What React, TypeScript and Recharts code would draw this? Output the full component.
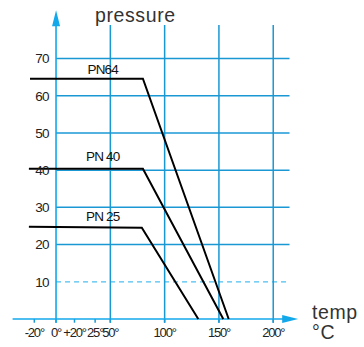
import { LineChart, Line, XAxis, YAxis, ReferenceLine, ReferenceDot } from 'recharts';

// pressure / temperature curves (schematic)
const pn64Temp = [-24, 80, 159];
const pn64Pressure = [64.6, 64.6, 0];
const pn40Temp = [-25, 80, 154];
const pn40Pressure = [40.4, 40.4, 0];
const pn25Temp = [-25, 79, 131];
const pn25Pressure = [24.8, 24.5, 0];

const seriesNames = ['PN64', 'PN 40', 'PN 25'];
const nameTemp = [43, 43, 43];
const namePressure = [67.2, 43.8, 27.6];

const yTicks = [10, 20, 30, 40, 50, 60, 70];
const xTicks = [-20, 0, 17, 36, 50, 100, 150, 200];
const xTickLabels = ['-20°', '0°', '+20°', '25°', '50°', '100°', '150°', '200°'];
const xGrid = [50, 100, 150, 200];

const toRows = (t: number[], p: number[]) => t.map((x, i) => ({ t: x, p: p[i] }));
const series = [
  toRows(pn64Temp, pn64Pressure),
  toRows(pn40Temp, pn40Pressure),
  toRows(pn25Temp, pn25Pressure),
];

const blue = '#1a98d4';
const arrowBlue = '#12a8ea';
const font = '"Liberation Sans", Arial, sans-serif';
const yTickStyle = { fill: '#222', fontSize: 13.5, fontFamily: font, letterSpacing: -0.6 };
const xTickStyle = { fill: '#222', fontSize: 13, fontFamily: font, letterSpacing: -1.2 };

export default function App() {
  return (
    <div style={{ position: 'absolute', left: 0, top: 0, width: 364, height: 347, background: '#fff' }}>
      <LineChart
        width={364}
        height={347}
        margin={{ top: 10.2, right: 65.8, bottom: 24.3, left: 12.6 }}
      >
        <XAxis type="number" dataKey="t" domain={[-40, 223]} allowDataOverflow hide />
        <YAxis type="number" dataKey="p" domain={[-1, 83]} allowDataOverflow hide />

        {yTicks.map((v) => (
          <ReferenceLine
            key={'h' + v}
            segment={[{ x: 0, y: v }, { x: 215, y: v }]}
            stroke={v === 10 ? '#4cbff0' : blue}
            strokeWidth={v === 10 ? 1.2 : 1.5}
            strokeDasharray={v === 10 ? '5 4' : undefined}
            label={{ value: String(v), position: 'left', offset: 7, ...yTickStyle }}
          />
        ))}
        {xGrid.map((v) => (
          <ReferenceLine
            key={'v' + v}
            segment={[{ x: v, y: -1 }, { x: v, y: 79 }]}
            stroke={blue}
            strokeWidth={1.5}
          />
        ))}
        {xTicks.map((v, i) => (
          <ReferenceLine
            key={'t' + v}
            segment={[{ x: v, y: -1 }, { x: v, y: 0 }]}
            stroke={blue}
            strokeWidth={1.5}
            label={{ value: xTickLabels[i], position: 'bottom', offset: 5, ...xTickStyle }}
          />
        ))}

        {/* axes with arrows */}
        <ReferenceLine segment={[{ x: 0, y: -1 }, { x: 0, y: 80 }]} stroke={arrowBlue} strokeWidth={1.6} />
        <ReferenceLine segment={[{ x: -40, y: 0 }, { x: 215, y: 0 }]} stroke={arrowBlue} strokeWidth={1.6} />
        <ReferenceDot
          x={0}
          y={83}
          shape={(p: any) => (
            <polygon points={`${p.cx},${p.cy} ${p.cx - 4},${p.cy + 16} ${p.cx + 4},${p.cy + 16}`} fill={arrowBlue} />
          )}
        />
        <ReferenceDot
          x={223}
          y={0}
          shape={(p: any) => (
            <polygon points={`${p.cx},${p.cy} ${p.cx - 16},${p.cy - 4} ${p.cx - 16},${p.cy + 4}`} fill={arrowBlue} />
          )}
        />

        {series.map((d, i) => (
          <Line
            key={seriesNames[i]}
            data={d}
            dataKey="p"
            type="linear"
            stroke="#000"
            strokeWidth={2}
            dot={false}
            isAnimationActive={false}
          />
        ))}

        {seriesNames.map((n, i) => (
          <ReferenceDot
            key={'n' + n}
            x={nameTemp[i]}
            y={namePressure[i]}
            r={0}
            fill="none"
            stroke="none"
            label={{ value: n, position: 'center', fill: '#111', fontSize: 13.5, fontFamily: font, letterSpacing: -0.8 }}
          />
        ))}
      </LineChart>

      <div style={{ position: 'absolute', left: 95, top: 3, fontFamily: font, fontSize: 19.5, color: '#333', letterSpacing: 0.6, lineHeight: '24px' }}>
        pressure
      </div>
      <div style={{ position: 'absolute', left: 312, top: 302, fontFamily: font, fontSize: 19.5, color: '#333', letterSpacing: 0.6, lineHeight: '20px', whiteSpace: 'nowrap' }}>
        temp
        <br />
        °C
      </div>
    </div>
  );
}
